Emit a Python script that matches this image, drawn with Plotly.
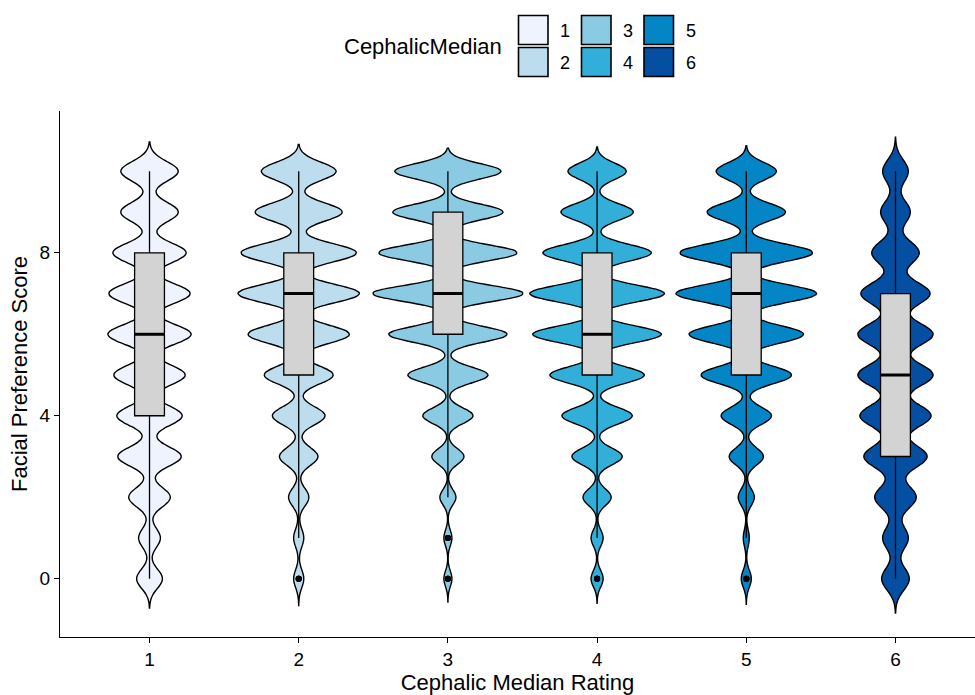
import numpy as np
import plotly.graph_objects as go

# ---------------- data ----------------
groups = [1, 2, 3, 4, 5, 6]
group_labels = ["1", "2", "3", "4", "5", "6"]
scores = list(range(11))  # facial preference score 0..10
# counts of each score (0..10) per Cephalic Median Rating group
counts_g1 = [13, 11, 21, 32, 33, 36, 42, 41, 37, 29, 29]
counts_g2 = [5, 5, 10, 19, 26, 34, 50, 60, 57, 43, 37]
counts_g3 = [4, 4, 8, 16, 25, 40, 59, 75, 69, 55, 53]
counts_g4 = [6, 6, 14, 25, 35, 47, 64, 67, 54, 36, 29]
counts_g5 = [5, 3, 8, 17, 25, 45, 57, 70, 66, 39, 30]
counts_g6 = [14, 13, 21, 32, 36, 38, 38, 35, 24, 15, 13]
y_ticks = [0, 4, 8]

# ---------------- style ----------------
colors = ["#EEF3FE", "#BDDDEF", "#8BCAE3", "#32AFD9", "#0485C5", "#044FA1"]
bandwidths = [0.24, 0.22, 0.19, 0.20, 0.21, 0.28]
FONT = "Arial, Liberation Sans, Helvetica, sans-serif"
BOX_W = 0.2
VIOLIN_MAX_W = 1.0

all_counts = [counts_g1, counts_g2, counts_g3, counts_g4, counts_g5, counts_g6]


def kde_peak(cnts, bw):
    """Peak of the gaussian KDE (normalised density) -> used for area scaling."""
    grid = np.linspace(-1.5, 11.5, 2601)
    c = np.asarray(cnts, float)
    k = np.asarray(scores, float)
    d = (c[None, :] * np.exp(-0.5 * ((grid[:, None] - k[None, :]) / bw) ** 2)).sum(1)
    return (d / (c.sum() * bw * np.sqrt(2 * np.pi))).max()


peaks = [kde_peak(c, b) for c, b in zip(all_counts, bandwidths)]
vwidths = [VIOLIN_MAX_W * p / max(peaks) for p in peaks]  # ggplot scale="area"

fig = go.Figure()

for g, cnts, bw, col, vw in zip(groups, all_counts, bandwidths, colors, vwidths):
    vals = np.repeat(scores, cnts).astype(float)
    fig.add_trace(go.Violin(
        x=[g] * len(vals), y=vals,
        bandwidth=bw, spanmode="manual",
        span=[vals.min() - 3 * bw, vals.max() + 3 * bw],
        scalemode="width", width=vw,
        fillcolor=col, line=dict(color="black", width=1.4),
        points=False, box_visible=False, meanline_visible=False,
        showlegend=False, hoverinfo="skip",
    ))

for g, cnts in zip(groups, all_counts):
    vals = np.repeat(scores, cnts).astype(float)
    fig.add_trace(go.Box(
        x=[g] * len(vals), y=vals, width=BOX_W,
        fillcolor="#D3D3D3", line=dict(color="black", width=1.3),
        whiskerwidth=0, boxpoints="outliers", jitter=0, pointpos=0,
        marker=dict(color="black", size=6, line=dict(width=0)),
        showlegend=False, hoverinfo="skip",
    ))
    med = float(np.median(vals))
    fig.add_trace(go.Scatter(
        x=[g - BOX_W / 2, g + BOX_W / 2], y=[med, med], mode="lines",
        line=dict(color="black", width=3), showlegend=False, hoverinfo="skip",
    ))

# ---------------- layout ----------------
L, R, T, B = 60, 0, 111, 58
W, H = 975, 695
pw, ph = W - L - R, H - T - B


def px(xpix):
    return (xpix - L) / pw


def py(ypix):
    return (H - B - ypix) / ph


fig.update_layout(
    width=W, height=H,
    margin=dict(l=L, r=R, t=T, b=B, autoexpand=False),
    paper_bgcolor="white", plot_bgcolor="white",
    violinmode="overlay", boxmode="overlay",
    font=dict(family=FONT, color="black"),
    showlegend=False,
)
fig.update_xaxes(
    range=[0.4, 6.533], tickvals=groups, ticktext=group_labels,
    showline=True, linecolor="black", linewidth=1.4,
    ticks="outside", ticklen=5, tickwidth=1.4, tickcolor="black",
    tickfont=dict(size=19, color="black"),
    showgrid=False, zeroline=False, automargin=False,
    title=dict(text="Cephalic Median Rating", font=dict(size=22), standoff=4),
)
fig.update_yaxes(
    range=[-1.43, 11.48], tickvals=y_ticks, ticktext=[str(v) for v in y_ticks],
    showline=True, linecolor="black", linewidth=1.4,
    ticks="outside", ticklen=5, tickwidth=1.4, tickcolor="black",
    tickfont=dict(size=19, color="black"),
    showgrid=False, zeroline=False, automargin=False,
    title=dict(text="Facial Preference Score", font=dict(size=22), standoff=5),
)

# ---------------- manual legend (ggplot-style, 2 rows x 3 columns) ----------------
shapes = []
annotations = [dict(
    x=px(504), y=py(46), xref="paper", yref="paper", text="CephalicMedian",
    showarrow=False, xanchor="right", yanchor="middle", font=dict(size=22),
)]
col_left = [518.5, 581.5, 644]
row_top = [15.5, 47.5]
key_w, key_h = 29.5, 29
for i, (lab, col) in enumerate(zip(group_labels, colors)):
    c, r = i // 2, i % 2
    x0, y0 = col_left[c], row_top[r]
    shapes.append(dict(
        type="rect", xref="paper", yref="paper",
        x0=px(x0), x1=px(x0 + key_w), y0=py(y0 + key_h), y1=py(y0),
        fillcolor=col, line=dict(color="black", width=1.6), layer="above",
    ))
    annotations.append(dict(
        x=px(x0 + key_w + 10), y=py(y0 + key_h / 2 + 1), xref="paper", yref="paper",
        text=lab, showarrow=False, xanchor="left", yanchor="middle",
        font=dict(size=18),
    ))
fig.update_layout(shapes=shapes, annotations=annotations)

fig.write_html("out.html", config={"displayModeBar": False},
               post_script="document.body.style.margin='0';")
